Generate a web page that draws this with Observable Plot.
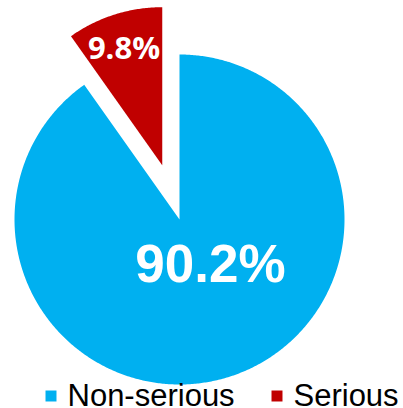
<!DOCTYPE html>
<html>
<head>
<meta charset="utf-8">
<script src="https://cdn.jsdelivr.net/npm/d3@7"></script>
<script src="https://cdn.jsdelivr.net/npm/@observablehq/plot@0.6"></script>
<style>
  html, body { margin: 0; padding: 0; background: #fff; }
  #chart svg { display: block; }
</style>
</head>
<body>
<div id="chart"></div>
<script>
// ---- data ----
const categories = ["Non-serious", "Serious"];
const values = [90.2, 9.8];
const labels = ["90.2%", "9.8%"];
const colors = ["#00B0F0", "#C00000"];

// ---- layout (pixels) ----
const W = 403, H = 408;
const center = [179, 219];
const radii = [165, 158];
const explode = [0, 57];
const labelPos = [[210, 265], [123.5, 49]];
const labelFont = [
  {size: 53, family: "'Liberation Sans', Arial, sans-serif"},
  {size: 31, family: "'Open Sans', sans-serif"}
];
const legendSquareX = [50.5, 276.5];
const legendTextX = [67, 293];
const legendY = 395.5;

// ---- geometry from data ----
const total = d3.sum(values);
const slices = [];
let acc = 0;
categories.forEach((c, i) => {
  const a0 = acc / total * 2 * Math.PI;
  acc += values[i];
  const a1 = acc / total * 2 * Math.PI;
  const mid = (a0 + a1) / 2;
  const ox = center[0] + explode[i] * Math.sin(mid);
  const oy = center[1] - explode[i] * Math.cos(mid);
  const pts = [{cat: c, x: ox, y: oy}];
  const n = Math.max(2, Math.ceil((a1 - a0) / (Math.PI / 360)));
  for (let k = 0; k <= n; k++) {
    const a = a0 + (a1 - a0) * k / n;
    pts.push({cat: c, x: ox + radii[i] * Math.sin(a), y: oy - radii[i] * Math.cos(a)});
  }
  slices.push(...pts);
});

const labelData = categories.map((c, i) => ({cat: c, text: labels[i], x: labelPos[i][0], y: labelPos[i][1], size: labelFont[i].size, family: labelFont[i].family}));
const legendData = categories.map((c, i) => ({cat: c, sx: legendSquareX[i], tx: legendTextX[i], y: legendY}));

const plot = Plot.plot({
  width: W,
  height: H,
  margin: 0,
  x: {domain: [0, W], range: [0, W], axis: null},
  y: {domain: [0, H], range: [0, H], axis: null},
  color: {domain: categories, range: colors},
  style: {background: "#fff"},
  marks: [
    Plot.line(slices, {x: "x", y: "y", z: "cat", fill: "cat", stroke: null, curve: "linear-closed"}),
    ...labelData.map(d => Plot.text([d], {
      x: "x", y: "y", text: "text", fill: "white", fontWeight: "bold",
      fontSize: d.size, fontFamily: d.family, textAnchor: "middle"
    })),
    Plot.dot(legendData, {x: "sx", y: "y", symbol: "square", r: 6.2, fill: "cat", stroke: null}),
    Plot.text(legendData, {x: "tx", y: "y", text: "cat", textAnchor: "start", fill: "black",
      fontSize: 31, fontFamily: "'Liberation Sans', Arial, sans-serif"})
  ]
});
document.getElementById("chart").appendChild(plot);
</script>
</body>
</html>
